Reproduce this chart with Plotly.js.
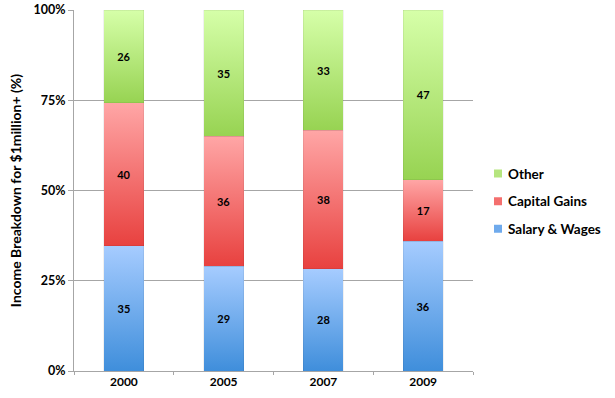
<!DOCTYPE html>
<html>
<head>
<meta charset="utf-8">
<script src="https://cdn.plot.ly/plotly-3.0.1.min.js"></script>
<style>body{margin:0;padding:0;background:#fff;} #chart{width:615px;height:398px;}</style>
</head>
<body>
<div id="chart"></div>
<script>
const years = ["2000", "2005", "2007", "2009"];
const salaryWages = [35, 29, 28, 36];
const capitalGains = [40, 36, 38, 17];
const other = [26, 35, 33, 47];
const seriesNames = ["Salary & Wages", "Capital Gains", "Other"];
const yTickVals = [0, 25, 50, 75, 100];
const yTickText = ["0%", "25%", "50%", "75%", "100%"];

const FONT = "Lato, 'Open Sans', sans-serif";
const solid = ["#6FAAEC", "#F46F6E", "#B5E57E"];
const grads = [["#A6CCFF", "#3F8EDB"], ["#FFA6A6", "#E8413F"], ["#D6FFA9", "#97D352"]];

function mk(name, vals, i) {
  return {
    type: "bar", name: name, x: years, y: vals,
    text: vals.map(String), textposition: "inside", insidetextanchor: "middle",
    textfont: {family: FONT, size: 11, color: "#000", weight: "bold"},
    marker: {color: solid[i], line: {width: 0.5, color: "rgba(0,0,0,0.12)"}},
    legendgroup: "g" + i, legendrank: 3 - i, hoverinfo: "none"
  };
}
const data = [mk(seriesNames[0], salaryWages, 0), mk(seriesNames[1], capitalGains, 1), mk(seriesNames[2], other, 2)];

const layout = {
  width: 615, height: 398,
  margin: {l: 74, r: 141, t: 10, b: 27},
  barmode: "stack", barnorm: "percent", bargap: 0.6,
  paper_bgcolor: "#fff", plot_bgcolor: "#fff",
  font: {family: FONT, color: "#000"},
  showlegend: true,
  legend: {x: 0.985, y: 0.47, xanchor: "left", yanchor: "middle", traceorder: "grouped",
           borderwidth: 0, bgcolor: "rgba(0,0,0,0)",
           font: {family: FONT, size: 13.5, color: "#000", weight: "bold"}, tracegroupgap: 7, itemwidth: 30},
  xaxis: {type: "category", showline: true, linecolor: "#a6a6a6", linewidth: 1,
          ticks: "outside", tickson: "boundaries", ticklen: 3, tickcolor: "#a6a6a6",
          tickfont: {family: FONT, size: 12, weight: "bold", color: "#000"}, showgrid: false},
  yaxis: {range: [0, 100], tickvals: yTickVals, ticktext: yTickText, showline: true, linecolor: "#a6a6a6",
          ticks: "outside", ticklen: 5, tickcolor: "#a6a6a6", gridcolor: "#a6a6a6", gridwidth: 1, zeroline: false,
          tickfont: {family: FONT, size: 12.5, weight: "bold", color: "#000"},
          title: {text: "Income Breakdown for $1million+ (%)", font: {family: FONT, size: 14, weight: "bold", color: "#000"}, standoff: 8}}
};

function ensureDefs(gd) {
  const svg = gd.querySelector("svg.main-svg");
  const NS = "http://www.w3.org/2000/svg";
  let defs = svg.querySelector("defs");
  if (!defs) { defs = document.createElementNS(NS, "defs"); svg.insertBefore(defs, svg.firstChild); }
  grads.forEach(function (g, i) {
    if (document.getElementById("bargrad" + i)) return;
    const lg = document.createElementNS(NS, "linearGradient");
    lg.setAttribute("id", "bargrad" + i);
    lg.setAttribute("x1", "0"); lg.setAttribute("y1", "0"); lg.setAttribute("x2", "0"); lg.setAttribute("y2", "1");
    [[0, g[0]], [1, g[1]]].forEach(function (s) {
      const st = document.createElementNS(NS, "stop");
      st.setAttribute("offset", s[0]); st.setAttribute("stop-color", s[1]);
      lg.appendChild(st);
    });
    defs.appendChild(lg);
  });
}
function fix(gd) {
  ensureDefs(gd);
  gd.querySelectorAll(".barlayer .trace").forEach(function (tr, i) {
    tr.querySelectorAll("path").forEach(function (p) { p.style.fill = "url(#bargrad" + i + ")"; });
  });
  gd.querySelectorAll("g.legend g.traces").forEach(function (tr) {
    tr.querySelectorAll("g.legendpoints path").forEach(function (p) {
      p.removeAttribute("transform");
      p.setAttribute("d", "M34,4H26V-4H34Z");
      p.style.strokeWidth = "0";
    });
  });
}

Plotly.newPlot("chart", data, layout, {staticPlot: true}).then(function (gd) {
  fix(gd);
  gd.on("plotly_afterplot", function () { fix(gd); });
  setTimeout(function () { fix(gd); }, 50);
  setTimeout(function () { fix(gd); }, 300);
});
</script>
</body>
</html>
